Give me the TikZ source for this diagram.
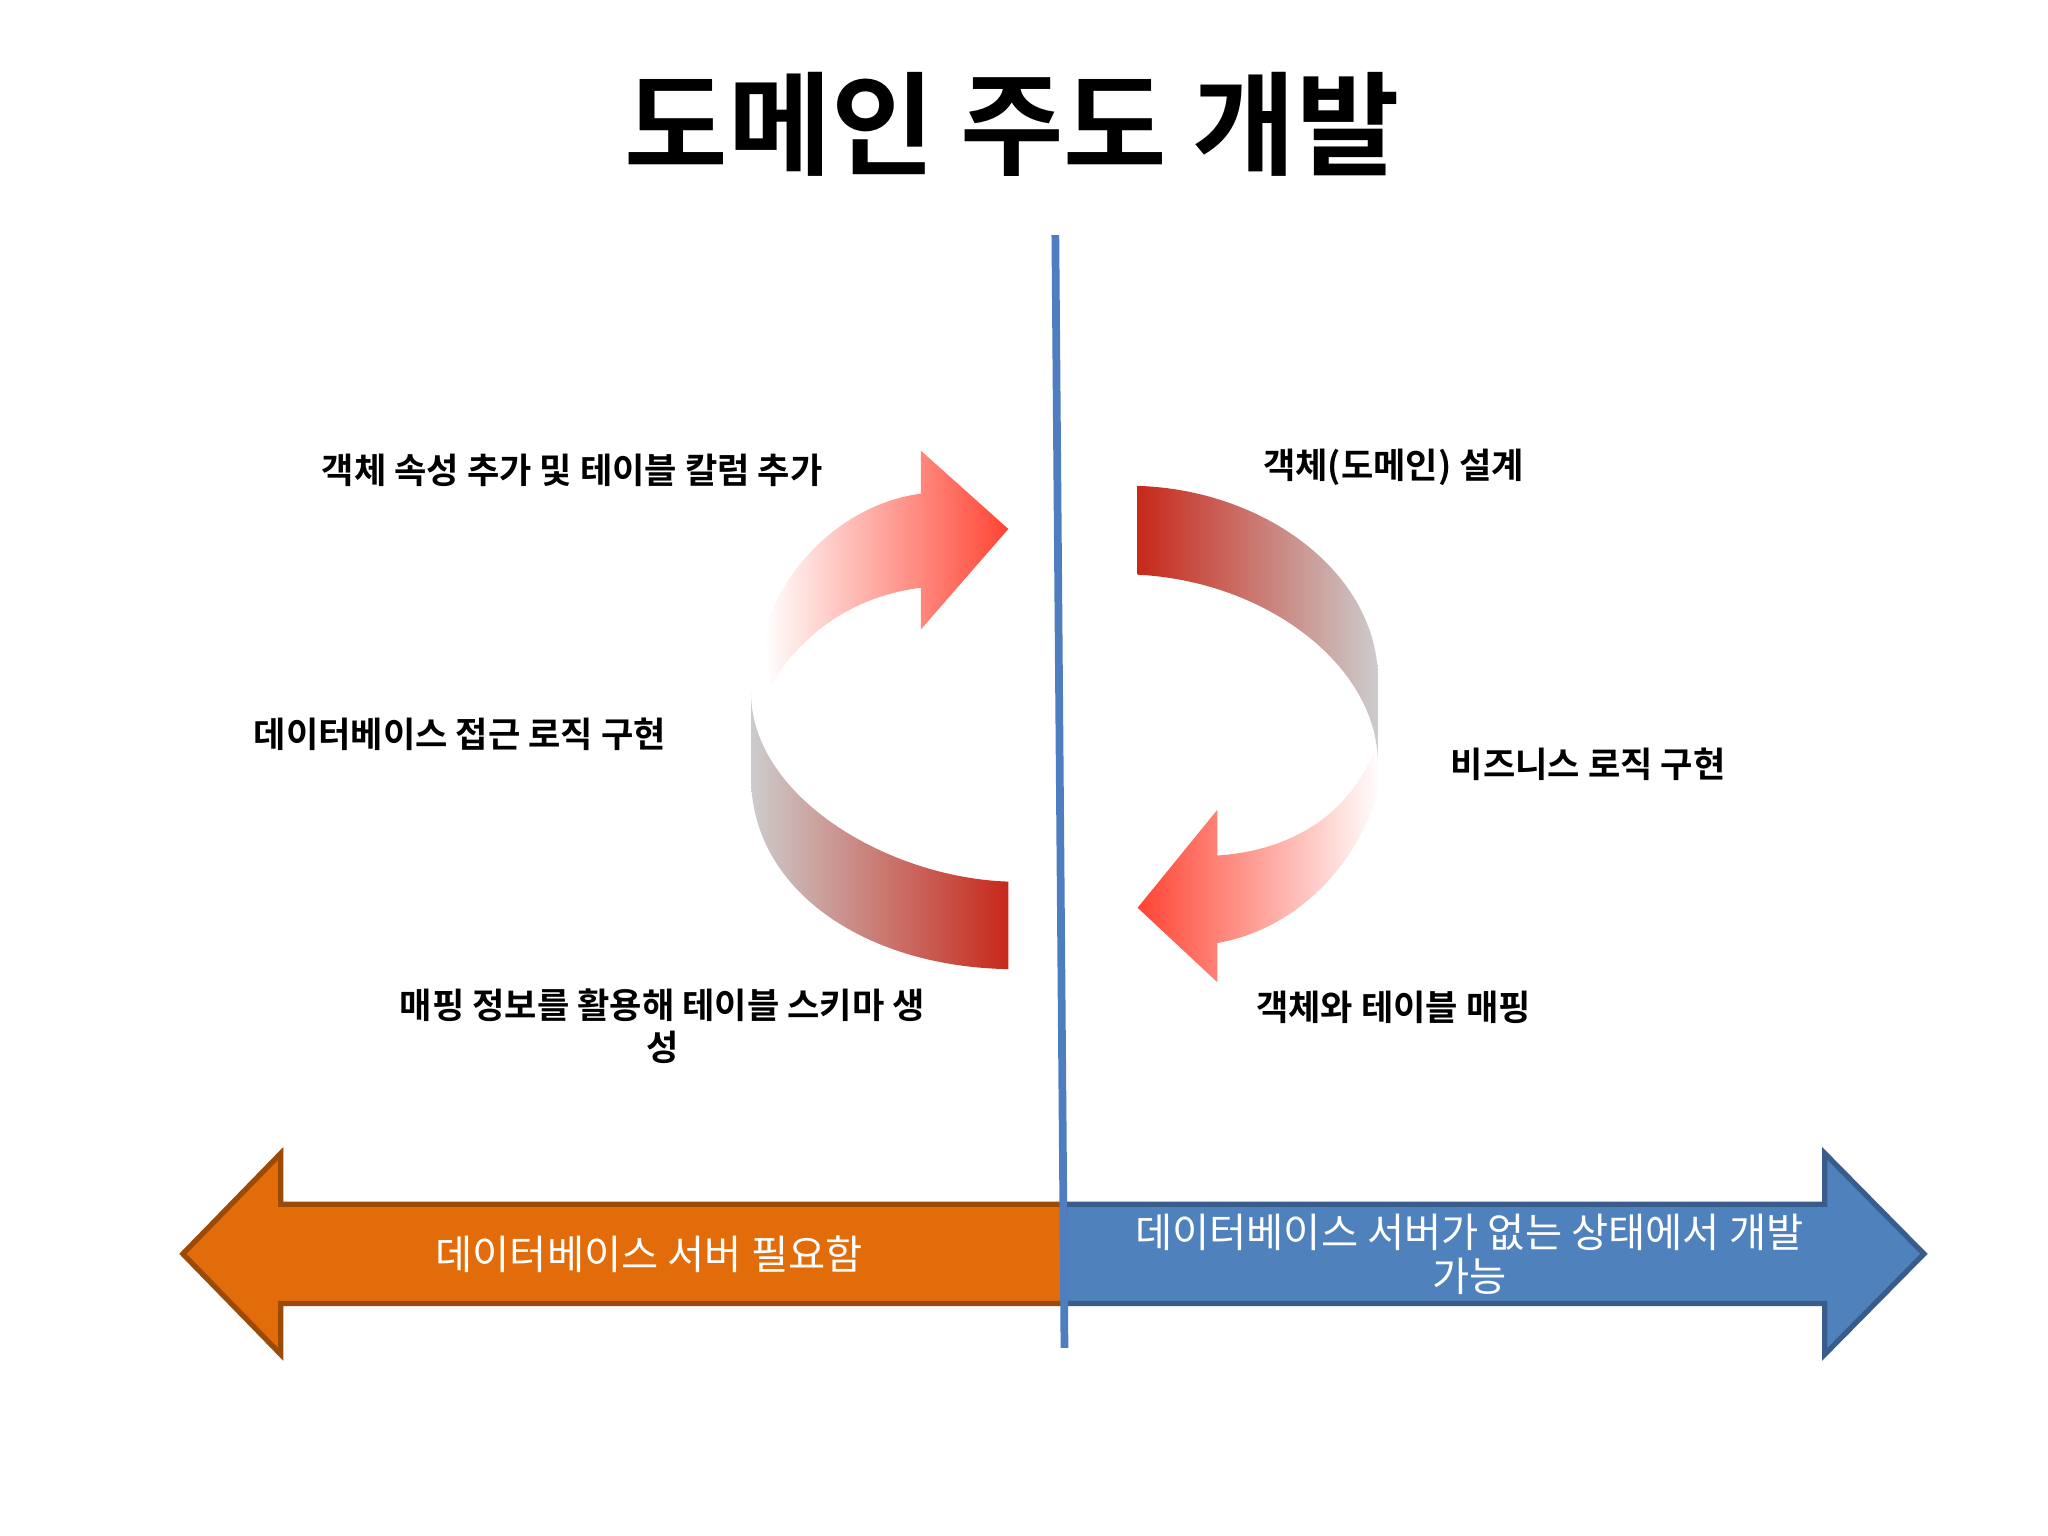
\documentclass[tikz,border=0pt]{standalone}
\usepackage{fontspec}
\setmainfont{Noto Sans CJK KR}[BoldFont={Noto Sans CJK KR Bold}]
\begin{document}
\begin{tikzpicture}[x=0.01306cm,y=-0.01306cm,
  lab/.style={font=\fontsize{10pt}{12pt}\selectfont\bfseries,align=center,inner sep=0},
  wlab/.style={font=\fontsize{11.5pt}{12.5pt}\selectfont,text=white,align=center,inner sep=0}]
\definecolor{ored}{HTML}{C8281A}
\definecolor{bred}{HTML}{FF4433}
\definecolor{lgray}{HTML}{CCCCCC}
\definecolor{vblue}{HTML}{4F7EC0}
\useasboundingbox (0,0) rectangle (1568,1176);
\node[font=\fontsize{32pt}{36pt}\selectfont\bfseries] (title) at (775,95) {도메인 주도 개발};
% bottom arrows
\draw[fill=orange!70!red!90!yellow, fill={rgb,255:red,227;green,108;blue,10}, draw={rgb,255:red,156;green,74;blue,7}, line width=1.5pt]
  (815,922) -- (215,922) -- (215,883) -- (140,960) -- (215,1037) -- (215,998) -- (815,998) -- cycle;
\draw[fill={rgb,255:red,79;green,129;blue,189}, draw={rgb,255:red,56;green,93;blue,138}, line width=1.5pt]
  (815,922) -- (1397,922) -- (1397,883) -- (1473,960) -- (1397,1037) -- (1397,998) -- (815,998) -- cycle;
\coordinate (vt) at (808,180);
\coordinate (vb) at (815,1032);
\draw[vblue, line width=2.2pt] (vt) -- (vb);
\node[wlab] (bl) at (497,960) {데이터베이스 서버 필요함};
\node[wlab] (br) at (1125,960) {데이터베이스 서버가 없는 상태에서 개발\\가능};
% left cycle
\shade[left color=lgray, right color=ored]
  (575,530) .. controls (575,610) and (680,672) .. (772,675) -- (772,742)
  .. controls (660,740) and (575,680) .. (575,595) -- cycle;
\shade[left color=white, right color=bred]
  (590,525) .. controls (620,475) and (665,455) .. (705,450) -- (705,482) -- (772,405) -- (705,345) -- (705,378)
  .. controls (650,385) and (600,430) .. (585,485) -- cycle;
% right cycle
\shade[left color=ored, right color=lgray]
  (871,372) .. controls (970,375) and (1055,440) .. (1055,520) -- (1055,585)
  .. controls (1055,510) and (970,445) .. (871,440) -- cycle;
\shade[left color=bred, right color=white]
  (1052,575) .. controls (1030,630) and (980,652) .. (932,655) -- (932,620) -- (871,695) -- (932,752) -- (932,722)
  .. controls (990,712) and (1040,665) .. (1057,600) -- cycle;
% labels
\node[lab] (l1) at (438,360) {객체 속성 추가 및 테이블 칼럼 추가};
\node[lab] (l2) at (352,562) {데이터베이스 접근 로직 구현};
\node[lab] (l3) at (507,786) {매핑 정보를 활용해 테이블 스키마 생\\성};
\node[lab] (r1) at (1067,358) {객체(도메인) 설계};
\node[lab] (r2) at (1216,585) {비즈니스 로직 구현};
\node[lab] (r3) at (1067,771) {객체와 테이블 매핑};
\end{tikzpicture}
\end{document}
